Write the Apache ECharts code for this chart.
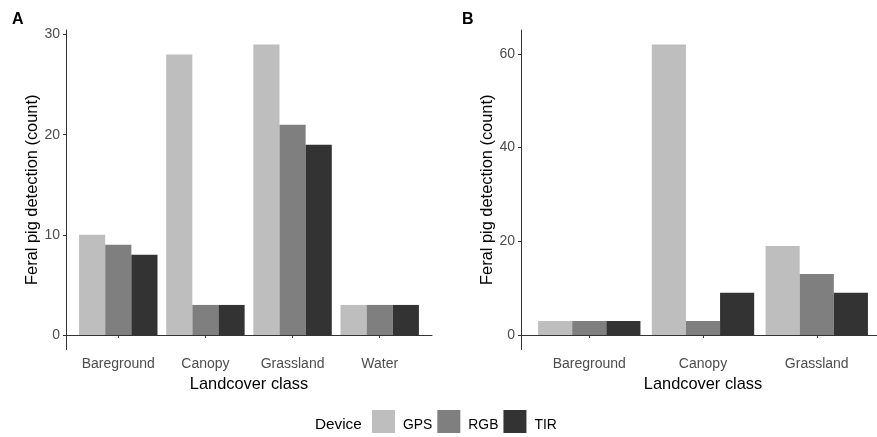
<!DOCTYPE html>
<html><head><meta charset="utf-8">
<script src="https://cdn.jsdelivr.net/npm/echarts@6/dist/echarts.min.js"></script>
<style>html,body{margin:0;padding:0;background:#fff}#c{width:877px;height:437px}</style>
</head><body><div id="c"></div>
<script>
const categoriesA = ['Bareground', 'Canopy', 'Grassland', 'Water'];
const gpsA = [10, 28, 29, 3];
const rgbA = [9, 3, 21, 3];
const tirA = [8, 3, 19, 3];
const categoriesB = ['Bareground', 'Canopy', 'Grassland'];
const gpsB = [3, 62, 19];
const rgbB = [3, 3, 13];
const tirB = [3, 9, 9];
const devices = ['GPS', 'RGB', 'TIR'];
const ticksA = [0, 10, 20, 30];
const ticksB = [0, 20, 40, 60];

const colors = ['#bebebe', '#7f7f7f', '#333333'];
const FONT = '"Liberation Sans", Arial, sans-serif';

function yRange(arrs) {
  const mx = Math.max(...arrs.flat());
  return [-mx * 0.05, mx * 1.05];
}
function xAxisCfg(idx, cats) {
  return {
    type: 'value', gridIndex: idx, min: 0.4, max: cats.length + 0.6,
    name: 'Landcover class', nameLocation: 'middle', nameGap: 27,
    nameTextStyle: {fontFamily: FONT, fontSize: 16.4, color: '#000'},
    axisLine: {show: true, lineStyle: {color: '#333', width: 1}},
    axisTick: {show: true, length: 3, lineStyle: {color: '#333'}, customValues: cats.map((c, i) => i + 1)},
    axisLabel: {show: true, margin: 8, fontFamily: FONT, fontSize: 14, color: '#4d4d4d',
      customValues: cats.map((c, i) => i + 1),
      formatter: v => cats[Math.round(v) - 1] || ''},
    splitLine: {show: false}
  };
}
function yAxisCfg(idx, range, ticks) {
  return {
    type: 'value', gridIndex: idx, min: range[0], max: range[1],
    name: 'Feral pig detection (count)', nameLocation: 'middle', nameGap: 26,
    nameTextStyle: {fontFamily: FONT, fontSize: 16.4, color: '#000'},
    axisLine: {show: true, lineStyle: {color: '#333', width: 1}},
    axisTick: {show: true, length: 3, lineStyle: {color: '#333'}, customValues: ticks},
    axisLabel: {show: true, margin: 6, fontFamily: FONT, fontSize: 14, color: '#4d4d4d', customValues: ticks},
    splitLine: {show: false}
  };
}
function barSeries(name, cats, vals, gi, color) {
  return {
    type: 'bar', name: name, xAxisIndex: gi, yAxisIndex: gi,
    data: cats.map((c, i) => [i + 1, vals[i]]),
    barGap: '0%', barCategoryGap: '10%',
    itemStyle: {color: color},
    emphasis: {disabled: true}
  };
}

const chart = echarts.init(document.getElementById('c'), null, {renderer: 'canvas'});
const seriesA = [gpsA, rgbA, tirA];
const seriesB = [gpsB, rgbB, tirB];
const series = [];
devices.forEach((d, k) => series.push(barSeries(d, categoriesA, seriesA[k], 0, colors[k])));
devices.forEach((d, k) => series.push(barSeries(d, categoriesB, seriesB[k], 1, colors[k])));

chart.setOption({
  animation: false,
  backgroundColor: '#fff',
  title: [
    {text: 'A', left: 7, top: 7, textStyle: {fontFamily: FONT, fontSize: 16, fontWeight: 'bold', color: '#000'}},
    {text: 'B', left: 457, top: 7, textStyle: {fontFamily: FONT, fontSize: 16, fontWeight: 'bold', color: '#000'}},
    {text: 'Device', left: 310, top: 412, textStyle: {fontFamily: FONT, fontSize: 15.3, fontWeight: 'normal', color: '#000'}}
  ],
  legend: {
    data: devices, left: 372, top: 410, padding: 0, itemWidth: 23, itemHeight: 23, itemGap: 5,
    icon: 'rect', selectedMode: false,
    formatter: n => '{t|' + n + '}',
    textStyle: {fontFamily: FONT, fontSize: 13.9, color: '#000',
      rich: {t: {fontFamily: FONT, fontSize: 13.9, color: '#000', padding: [7, 5, 0, 3]}}}
  },
  grid: [
    {left: 66, width: 366, top: 30, bottom: 87.5, outerBoundsMode: 'none', containLabel: false},
    {left: 521, width: 364, top: 30, bottom: 87.5, outerBoundsMode: 'none', containLabel: false}
  ],
  xAxis: [xAxisCfg(0, categoriesA), xAxisCfg(1, categoriesB)],
  yAxis: [yAxisCfg(0, yRange(seriesA), ticksA), yAxisCfg(1, yRange(seriesB), ticksB)],
  series: series
});
</script>
</body></html>
